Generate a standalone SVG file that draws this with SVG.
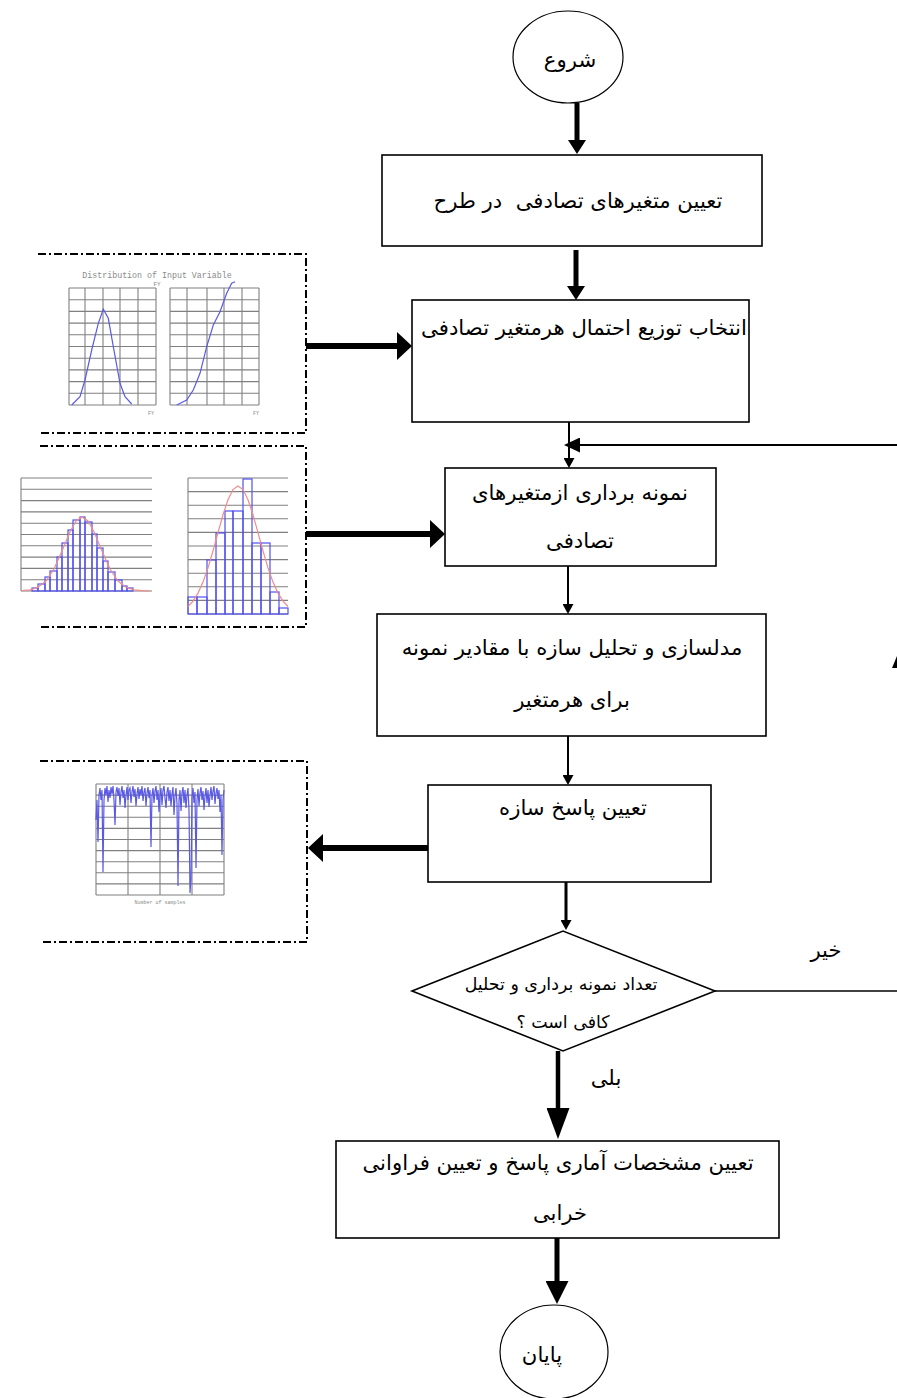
<svg xmlns="http://www.w3.org/2000/svg" width="897" height="1398" viewBox="0 0 897 1398">
<style>
.node{fill:#fff;stroke:#000;stroke-width:1.6}
.term{fill:#fff;stroke:#000;stroke-width:1.2}
.t{font-family:"DejaVu Sans",sans-serif;font-size:21.2px;fill:#000;text-anchor:middle}
.ts{font-family:"DejaVu Sans",sans-serif;font-size:17.4px;fill:#000;text-anchor:middle}
.frame{fill:none;stroke:#000;stroke-width:2;stroke-dasharray:8 3 2 3}
.grid{stroke:#808080;stroke-width:1.1;fill:none}
.blue{fill:none;stroke:#5a5ae6;stroke-width:1.2}
.bar{fill:none;stroke:#5050f0;stroke-width:1.2}
.red{fill:none;stroke:#f08c8c;stroke-width:1.2}
.tiny{font-family:"Liberation Mono",monospace;fill:#8a8a8a;text-anchor:middle}
.c{stroke:#000;fill:none}
</style>
<defs>
<marker id="hV" markerUnits="userSpaceOnUse" markerWidth="14" markerHeight="18" viewBox="0 0 14 18" refX="0" refY="9" orient="auto"><path d="M0,0 L14,9 L0,18 z" fill="#000"/></marker>
<marker id="hH" markerUnits="userSpaceOnUse" markerWidth="15" markerHeight="28" viewBox="0 0 15 28" refX="0" refY="14" orient="auto"><path d="M0,0 L15,14 L0,28 z" fill="#000"/></marker>
<marker id="hT" markerUnits="userSpaceOnUse" markerWidth="10" markerHeight="11" viewBox="0 0 10 11" refX="0" refY="5.5" orient="auto"><path d="M0,0 L10,5.5 L0,11 z" fill="#000"/></marker>
<marker id="hF" markerUnits="userSpaceOnUse" markerWidth="16" markerHeight="15" viewBox="0 0 16 15" refX="0" refY="7.5" orient="auto"><path d="M0,0 L16,7.5 L0,15 z" fill="#000"/></marker>
<marker id="hB" markerUnits="userSpaceOnUse" markerWidth="31" markerHeight="23" viewBox="0 0 31 23" refX="0" refY="11.5" orient="auto"><path d="M0,0 L31,11.5 L0,23 z" fill="#000"/></marker>
<marker id="hE" markerUnits="userSpaceOnUse" markerWidth="23" markerHeight="23" viewBox="0 0 23 23" refX="0" refY="11.5" orient="auto"><path d="M0,0 L23,11.5 L0,23 z" fill="#000"/></marker>
</defs>

<!-- illustration frames -->
<g id="frame-distribution">
<path class="frame" d="M38,254 H306 V433 H38"/>
<text class="tiny" x="157" y="278" font-size="8.3">Distribution of Input Variable</text>
<text class="tiny" x="157" y="286" font-size="6">FY</text>
<g class="grid">
<path d="M69,288 V405 M85,288 V405 M103,288 V405 M120,288 V405 M138,288 V405 M156,288 V405"/>
<path d="M69,288 H156 M69,299.7 H156 M69,311.4 H156 M69,323.1 H156 M69,334.8 H156 M69,346.5 H156 M69,358.2 H156 M69,369.9 H156 M69,381.6 H156 M69,393.3 H156 M69,405 H156"/>
<path d="M170,288 V405 M187,288 V405 M207,288 V405 M224,288 V405 M242,288 V405 M259,288 V405"/>
<path d="M170,288 H259 M170,299.7 H259 M170,311.4 H259 M170,323.1 H259 M170,334.8 H259 M170,346.5 H259 M170,358.2 H259 M170,369.9 H259 M170,381.6 H259 M170,393.3 H259 M170,405 H259"/>
</g>
<polyline class="blue" points="71.7,405 80,396.7 85,380 91.7,350 98.3,323.3 103.3,309.3 108.3,318.3 113.3,346.7 120,383.3 125,396.7 131.7,404"/>
<polyline class="blue" points="176.7,405 186.7,400 193.3,390 200,373.3 206.7,346.7 213.3,325 220,311.7 226.7,293.3 231.7,283.3 235,281.7"/>
<text class="tiny" x="151" y="415" font-size="5">FY</text>
<text class="tiny" x="256" y="415" font-size="5">FY</text>
</g>

<g id="frame-histograms">
<path class="frame" d="M40,446 H306 V627 H40"/>
<g class="grid">
<path d="M21,478 V591"/>
<path d="M21,478 H152 M21,489.3 H152 M21,500.6 H152 M21,511.9 H152 M21,523.2 H152 M21,534.5 H152 M21,545.8 H152 M21,557.1 H152 M21,568.4 H152 M21,579.7 H152 M21,591 H152"/>
<path d="M188,478 V614"/>
<path d="M188,478 H288 M188,491.6 H288 M188,505.2 H288 M188,518.8 H288 M188,532.4 H288 M188,546 H288 M188,559.6 H288 M188,573.2 H288 M188,586.8 H288 M188,600.4 H288 M188,614 H288"/>
</g>
<g class="bar">
<rect x="32" y="588" width="6" height="3"/>
<rect x="38" y="584" width="7" height="7"/>
<rect x="45" y="577" width="5" height="14"/>
<rect x="50" y="571" width="7" height="20"/>
<rect x="57" y="557" width="5" height="34"/>
<rect x="62" y="543" width="6" height="48"/>
<rect x="68" y="530" width="5" height="61"/>
<rect x="73" y="520" width="7" height="71"/>
<rect x="80" y="517" width="5" height="74"/>
<rect x="85" y="522" width="7" height="69"/>
<rect x="92" y="534" width="5" height="57"/>
<rect x="97" y="548" width="6" height="43"/>
<rect x="103" y="561" width="5" height="30"/>
<rect x="108" y="572" width="7" height="19"/>
<rect x="115" y="580" width="7" height="11"/>
<rect x="122" y="586" width="5" height="5"/>
<rect x="127" y="588" width="6" height="3"/>
<rect x="188" y="597" width="9" height="17"/>
<rect x="197" y="597" width="10" height="17"/>
<rect x="207" y="560" width="9" height="54"/>
<rect x="216" y="533" width="9" height="81"/>
<rect x="225" y="511" width="8" height="103"/>
<rect x="233" y="511" width="10" height="103"/>
<rect x="243" y="479" width="9" height="135"/>
<rect x="252" y="543" width="9" height="71"/>
<rect x="261" y="543" width="9" height="71"/>
<rect x="270" y="592" width="9" height="22"/>
<rect x="279" y="608" width="9" height="6"/>
</g>
<polyline class="red" points="22,590.7 30,589.9 38,587.3 46,581 54,569 62,551.1 70,531.7 76,521 82,517 88,521 94,531.7 102,551.1 110,569 118,581 126,587.3 134,589.9 142,590.7 150,591"/>
<polyline class="red" points="188,606.5 193,601.1 198,593.1 203,582.1 208,567.9 213,551 218,532.7 223,514.8 228,499.7 233,489.6 238,486 243,489.6 248,499.7 253,514.8 258,532.7 263,551 268,567.9 273,582.1 278,593.1 283,601.1 288,606.5"/>
</g>

<g id="frame-response">
<path class="frame" d="M40,761 H307 V942 H40"/>
<g class="grid">
<path d="M96,784 V895 M128,784 V895 M160,784 V895 M192,784 V895 M224,784 V895"/>
<path d="M96,784 H224 M96,795.1 H224 M96,806.2 H224 M96,817.3 H224 M96,828.4 H224 M96,839.5 H224 M96,850.6 H224 M96,861.7 H224 M96,872.8 H224 M96,883.9 H224 M96,895 H224"/>
</g>
<polyline class="blue" stroke-width="1" points="96,820 97,800 98,842 99,795 100,788 101,800 102,790 103,872 104,800 105,788 106,795 107,786 108,802 109,790 110,798 111,787 112,794 113,786 114,800 115,825 116,792 117,787 118,796 119,788 120,805 121,792 122,786 123,798 124,790 125,808 126,795 127,787 128,800 129,790 130,788 131,803 132,792 133,786 134,797 135,789 136,806 137,794 138,787 139,799 140,789 141,795 142,786 143,801 144,792 145,788 146,806 147,793 148,787 149,798 150,790 151,847 152,795 153,788 154,803 155,791 156,786 157,800 158,790 159,812 160,796 161,788 162,805 163,790 164,786 165,798 166,808 167,792 168,787 169,801 170,790 171,806 172,794 173,787 174,815 175,796 176,788 177,804 178,886 179,800 180,790 181,811 182,793 183,787 184,803 185,790 186,808 187,795 188,788 189,810 190,893 191,879 192,798 193,788 194,803 195,792 196,868 197,800 198,789 199,806 200,793 201,787 202,800 203,791 204,810 205,796 206,788 207,803 208,790 209,807 210,795 211,787 212,800 213,791 214,786 215,804 216,793 217,788 218,799 219,790 220,812 221,795 222,855 223,800 224,790"/>
<text class="tiny" x="160" y="904" font-size="5">Number of samples</text>
</g>

<!-- connectors -->
<g id="connectors" class="c">
<line x1="577" y1="103" x2="577" y2="140" stroke-width="5" marker-end="url(#hV)"/>
<line x1="576" y1="250" x2="576" y2="286" stroke-width="5" marker-end="url(#hV)"/>
<line x1="306" y1="346" x2="397" y2="346" stroke-width="6" marker-end="url(#hH)"/>
<line x1="306" y1="534" x2="430" y2="534" stroke-width="6" marker-end="url(#hH)"/>
<line x1="428" y1="848" x2="323" y2="848" stroke-width="6" marker-end="url(#hH)"/>
<line x1="569" y1="422" x2="569" y2="458" stroke-width="2" marker-end="url(#hT)"/>
<line x1="897" y1="445" x2="580" y2="445" stroke-width="2" marker-end="url(#hF)"/>
<line x1="568" y1="566" x2="568" y2="604" stroke-width="2" marker-end="url(#hT)"/>
<line x1="568" y1="736" x2="568" y2="775" stroke-width="2" marker-end="url(#hT)"/>
<line x1="566" y1="882" x2="566" y2="920" stroke-width="3" marker-end="url(#hT)"/>
<line x1="558" y1="1051" x2="558" y2="1108" stroke-width="4.5" marker-end="url(#hB)"/>
<line x1="557" y1="1238" x2="557" y2="1281" stroke-width="5" marker-end="url(#hE)"/>
<line x1="715" y1="991" x2="897" y2="991" stroke-width="1.6"/>
<polygon points="892,668 897,656 897,668" fill="#000" stroke="none"/>
<text class="t" x="826" y="957" stroke="none">خیر</text>
<text class="t" x="606" y="1085" stroke="none">بلی</text>
</g>

<!-- nodes -->
<g id="start">
<ellipse class="term" cx="568" cy="57" rx="55" ry="46"/>
<text class="t" x="570" y="67">شروع</text>
</g>
<g id="define-variables">
<rect class="node" x="382" y="155" width="380" height="91"/>
<text class="t" x="578" y="208" xml:space="preserve">تعیین متغیرهای تصادفی  در طرح</text>
</g>
<g id="select-distribution">
<rect class="node" x="412" y="300" width="337" height="122"/>
<text class="t" x="584" y="335">انتخاب توزیع احتمال هرمتغیر تصادفی</text>
</g>
<g id="sampling">
<rect class="node" x="445" y="468" width="271" height="98"/>
<text class="t" x="580" y="500">نمونه برداری ازمتغیرهای</text>
<text class="t" x="580" y="548">تصادفی</text>
</g>
<g id="modelling">
<rect class="node" x="377" y="614" width="389" height="122"/>
<text class="t" x="572" y="655">مدلسازی و تحلیل سازه با مقادیر نمونه</text>
<text class="t" x="572" y="707">برای هرمتغیر</text>
</g>
<g id="response">
<rect class="node" x="428" y="785" width="283" height="97"/>
<text class="t" x="573" y="815">تعیین پاسخ سازه</text>
</g>
<g id="decision">
<polygon class="node" points="412,991 563,931 715,991 563,1051"/>
<text class="ts" x="561" y="990">تعداد نمونه برداری و تحلیل</text>
<text class="ts" x="563" y="1028">کافی است ؟</text>
</g>
<g id="statistics">
<rect class="node" x="336" y="1141" width="443" height="97"/>
<text class="t" x="558" y="1170">تعیین مشخصات آماری پاسخ و تعیین فراوانی</text>
<text class="t" x="560" y="1220">خرابی</text>
</g>
<g id="end">
<ellipse class="term" cx="554" cy="1352" rx="54" ry="47"/>
<text class="t" x="542" y="1362">پایان</text>
</g>
</svg>
